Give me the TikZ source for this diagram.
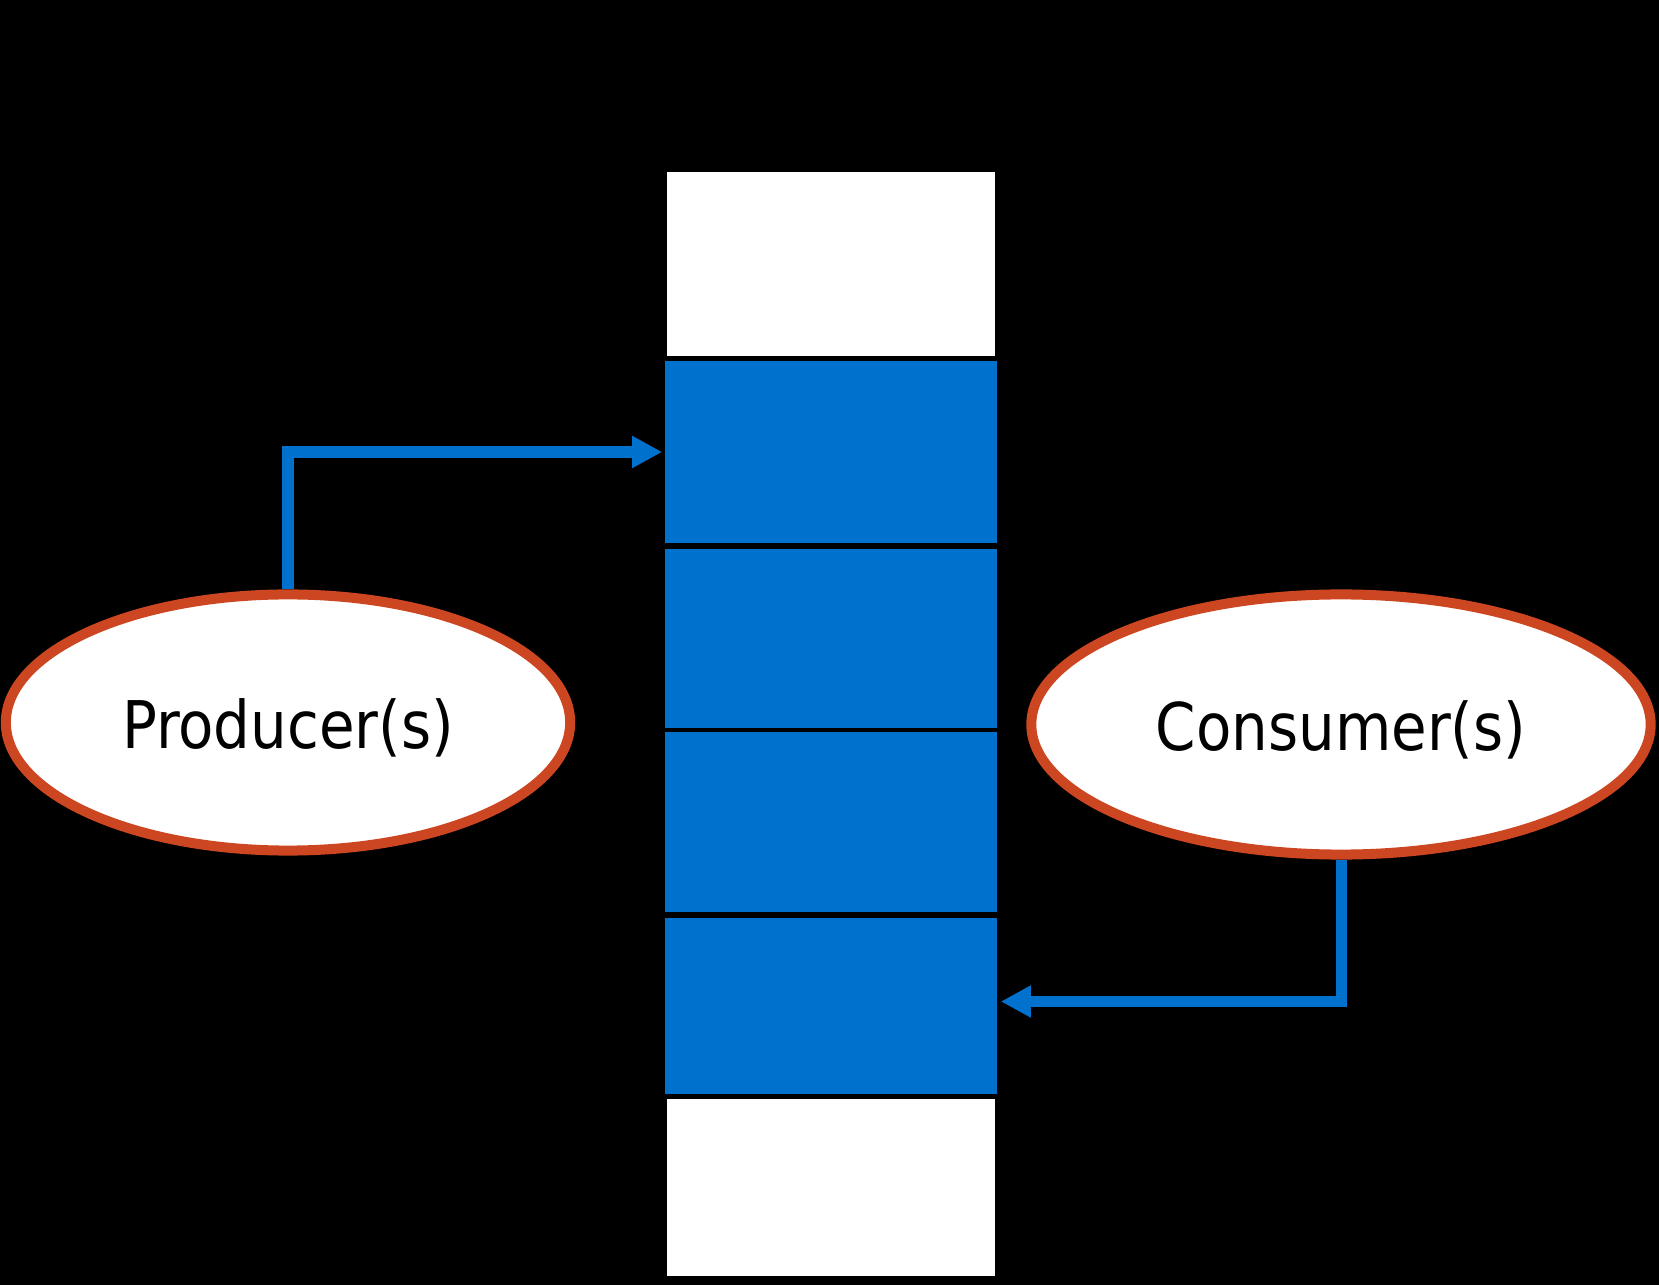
\documentclass[tikz,border=0pt]{standalone}
\usepackage{fontspec}
\setmainfont{DejaVu Sans}[FakeStretch=0.88]
\usetikzlibrary{shapes.geometric,arrows.meta}
\definecolor{slotblue}{RGB}{0,114,206}
\definecolor{rimred}{RGB}{204,70,33}
\begin{document}
\begin{tikzpicture}[x=0.01cm,y=-0.01cm,
  fullslot/.style={rectangle,fill=slotblue,draw=none,minimum width=3.32cm,inner sep=0pt},
  emptyslot/.style={rectangle,fill=white,draw=none,minimum width=3.28cm,inner sep=0pt},
  actor/.style={ellipse,draw=rimred,fill=white,line width=0.1cm,inner sep=0pt,
    text height=0.6cm,text depth=0.08cm,
    font=\fontsize{18.7pt}{22pt}\selectfont},
  conn/.style={draw=slotblue,line width=0.11cm,
    -{Triangle[length=0.3cm,width=0.3cm]}}]
  % canvas
  \fill[black] (0,0) rectangle (1659,1285);
  \useasboundingbox (0,0) rectangle (1659,1285);

  % buffer slots, top to bottom
  \node[emptyslot,minimum height=1.84cm] (e1) at (831,264) {};
  \node[fullslot,minimum height=1.82cm] (s1) at (831,452) {};
  \node[fullslot,minimum height=1.79cm] (s2) at (831,638.5) {};
  \node[fullslot,minimum height=1.80cm] (s3) at (831,822) {};
  \node[fullslot,minimum height=1.76cm] (s4) at (831,1006) {};
  \node[emptyslot,minimum height=1.77cm] (e2) at (831,1187.5) {};

  % producer and consumer
  \node[actor,minimum width=5.64cm,minimum height=2.56cm] (prod) at (288,722.5) {Producer(s)};
  \node[actor,minimum width=6.19cm,minimum height=2.60cm] (cons) at (1341,724.5) {Consumer(s)};

  % connectors
  \draw[conn,shorten >=0.02cm] (prod.north) |- (s1.west);
  \draw[conn,shorten >=0.03cm] (cons.south) |- ([yshift=0.045cm]s4.east);
\end{tikzpicture}
\end{document}
